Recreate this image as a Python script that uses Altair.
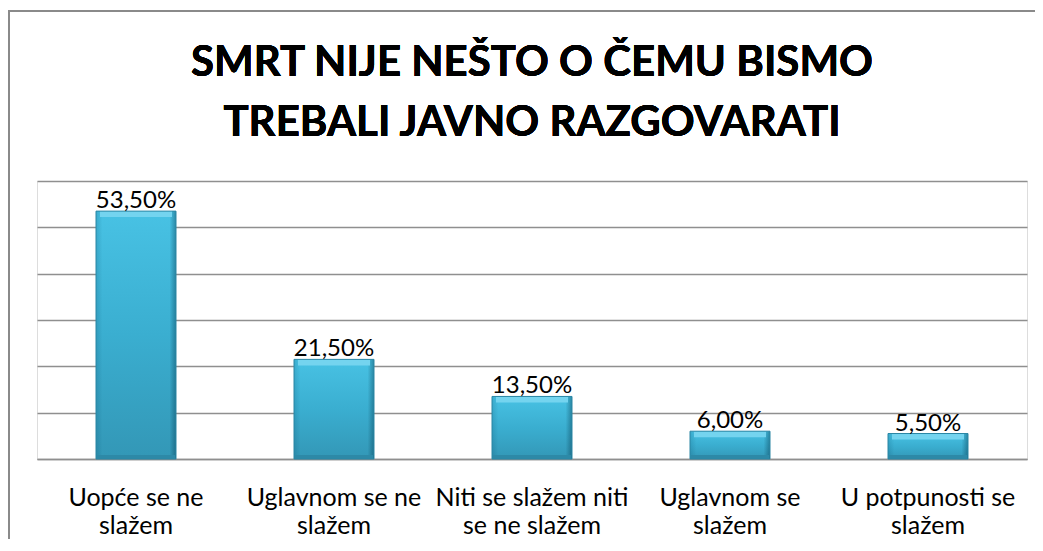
import altair as alt
import pandas as pd

categories = ["Uopće se ne\nslažem", "Uglavnom se ne\nslažem", "Niti se slažem niti\nse ne slažem",
              "Uglavnom se\nslažem", "U potpunosti se\nslažem"]
values = [53.5, 21.5, 13.5, 6.0, 5.5]
labels = ["53,50%", "21,50%", "13,50%", "6,00%", "5,50%"]
title_lines = ["SMRT NIJE NEŠTO O ČEMU BISMO", "TREBALI JAVNO RAZGOVARATI"]

df = pd.DataFrame({"cat": categories, "val": values, "lab": labels, "zero": [0] * len(values)})

FONT = "Lato"

x_enc = alt.X("cat:N", sort=categories, title=None,
              scale=alt.Scale(paddingInner=0.0, paddingOuter=0.0),
              axis=alt.Axis(labelAngle=0, labelFont=FONT, labelFontSize=25, labelColor="#000000",
                            labelExpr="split(datum.value, '\\n')", labelLineHeight=28,
                            labelPadding=26, ticks=False, domainColor="#8f8f8f",
                            domainWidth=1.5, labelLimit=300))
y_enc = alt.Y("val:Q", title=None, scale=alt.Scale(domain=[0, 60]),
              axis=alt.Axis(values=[0, 10, 20, 30, 40, 50, 60], labels=False, ticks=False,
                            domain=False, grid=True, gridColor="#8f8f8f", gridWidth=1.5))
x_plain = alt.X("cat:N", sort=categories)

vgrad = alt.Gradient(gradient="linear", x1=0, x2=0, y1=0, y2=1,
                     stops=[alt.GradientStop(color="#48c2e4", offset=0),
                            alt.GradientStop(color="#3aaed0", offset=0.5),
                            alt.GradientStop(color="#3397b6", offset=1)])
hgrad = alt.Gradient(gradient="linear", x1=0, x2=1, y1=0, y2=0,
                     stops=[alt.GradientStop(color="rgba(0,70,100,0.18)", offset=0),
                            alt.GradientStop(color="rgba(0,70,100,0)", offset=0.08),
                            alt.GradientStop(color="rgba(0,50,70,0)", offset=0.92),
                            alt.GradientStop(color="rgba(0,50,70,0.40)", offset=1)])

base = alt.Chart(df)
bars = base.mark_bar(size=80, color=vgrad).encode(x=x_enc, y=y_enc)
sides = base.mark_bar(size=80, color=hgrad).encode(x=x_plain, y=alt.Y("val:Q"))
top_bevel = base.mark_bar(size=72, color="#74d4ef", y2Offset=6).encode(
    x=x_plain, y=alt.Y("val:Q"), y2=alt.Y2("val"))
bottom_edge = base.mark_bar(size=78, color="#2d89a7", y2Offset=-4).encode(
    x=x_plain, y=alt.Y("zero:Q"), y2=alt.Y2("zero"))
outline = base.mark_bar(size=80, fill="transparent", stroke="#2a86a4", strokeWidth=1).encode(
    x=x_plain, y=alt.Y("val:Q"))
text = base.mark_text(baseline="alphabetic", dy=-3, font=FONT, fontSize=24, color="#000000").encode(
    x=x_plain, y=alt.Y("val:Q"), text="lab:N")

frame_top = alt.Chart(df).mark_rule(color="#8a8a8a", strokeWidth=2).encode(
    x=alt.value(-28), x2=alt.value(1010), y=alt.value(-170))
frame_left = alt.Chart(df).mark_rule(color="#8a8a8a", strokeWidth=2).encode(
    x=alt.value(-28), y=alt.value(-171), y2=alt.value(400))

title = alt.Chart(df).mark_text(text=title_lines, font=FONT, fontSize=42, fontWeight="bold",
                                color="#000000", lineHeight=60, baseline="alphabetic",
                                align="center").encode(x=alt.value(495), y=alt.value(-105))

chart = alt.layer(frame_top, frame_left, title, bars, sides, top_bevel, bottom_edge, outline, text).properties(
    width=990, height=278,
    autosize=alt.AutoSizeParams(type="none"),
    padding={"left": 29, "top": 173, "right": 8, "bottom": 80},
).configure_view(stroke=None).configure(background="white")

chart.save("out.html", embed_options={"renderer": "svg", "actions": False})
